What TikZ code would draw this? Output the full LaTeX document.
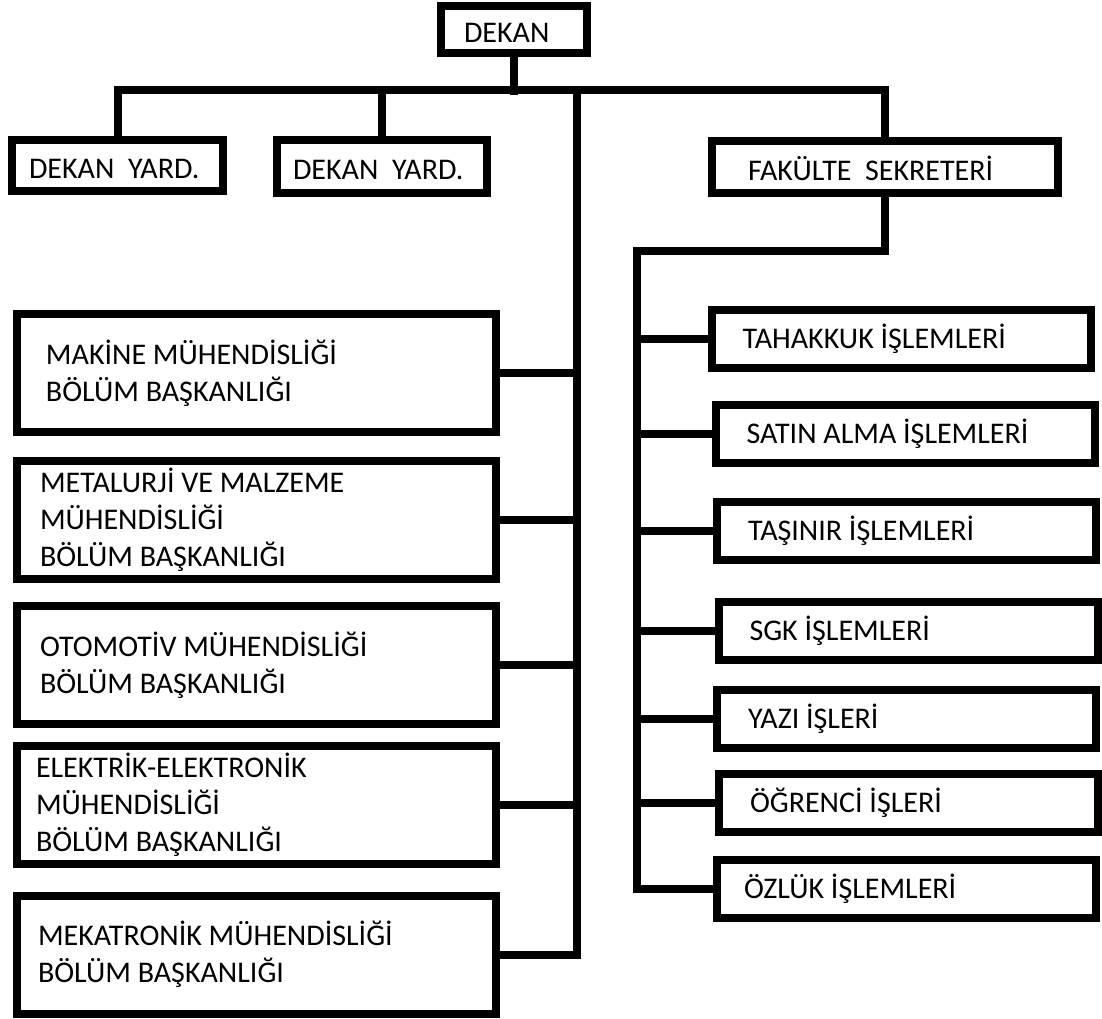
\documentclass[tikz,border=0pt]{standalone}
\usepackage{fontspec}
\setmainfont{Carlito}
\usepackage{tikz}
\newlength{\unitsize}
\setlength{\unitsize}{0.5pt}

\begin{document}
\begin{tikzpicture}[x=\unitsize,y=-\unitsize]
\useasboundingbox (0,0) rectangle (1102,1018);
\tikzstyle{every node}=[draw,
			rectangle,
			line width=8\unitsize,
			inner ysep=0pt,
			align=flush left,
			font=\fontsize{15}{18.5}\selectfont
			]
\tikzstyle{oneline}=[text height=9.7pt, text depth=0pt]
\tikzstyle{topbox}=[text height=13.2pt, text depth=0pt]
\tikzstyle{leftbox}=[minimum height=118\unitsize, inner xsep=23\unitsize, text width=433\unitsize]
\tikzstyle{rightbox}=[oneline, minimum height=58\unitsize, inner xsep=31\unitsize, text width=317\unitsize]
\tikzstyle{link}=[line width=8\unitsize]

\node[topbox, minimum height=47\unitsize, inner xsep=23\unitsize, text width=100\unitsize] (dekan) at (514,29.5) {DEKAN};

\node[topbox, minimum height=51\unitsize, inner xsep=17\unitsize, text width=177\unitsize] (dy1) at (117.5,165.5) {DEKAN\ \ YARD.};

\node[topbox, minimum height=53\unitsize, inner xsep=16\unitsize, text width=178\unitsize] (dy2) at (382,166.5) {DEKAN\ \ YARD.};

\node[topbox, minimum height=52\unitsize, inner xsep=36\unitsize, text width=274\unitsize] (fak) at (885,167) {FAKÜLTE\ \ SEKRETERİ};

\node[leftbox, inner xsep=29\unitsize, text width=421\unitsize] (mak) at (256.5,373) {MAKİNE MÜHENDİSLİĞİ\\BÖLÜM BAŞKANLIĞI};

\node[leftbox] (met) at (256.5,520) {METALURJİ VE MALZEME\\MÜHENDİSLİĞİ\\BÖLÜM BAŞKANLIĞI};

\node[leftbox] (oto) at (256.5,665) {OTOMOTİV MÜHENDİSLİĞİ\\BÖLÜM BAŞKANLIĞI};

\node[leftbox, inner xsep=19\unitsize, text width=441\unitsize] (ele) at (256.5,804.5) {ELEKTRİK-ELEKTRONİK\\MÜHENDİSLİĞİ\\BÖLÜM BAŞKANLIĞI};

\node[leftbox, inner xsep=21\unitsize, text width=437\unitsize] (mek) at (256.5,954.5) {MEKATRONİK MÜHENDİSLİĞİ\\BÖLÜM BAŞKANLIĞI};

\node[rightbox] (tah) at (901,338.5) {TAHAKKUK İŞLEMLERİ};

\node[rightbox] (sat) at (905,434) {SATIN ALMA İŞLEMLERİ};

\node[rightbox] (tas) at (906.5,530.5) {TAŞINIR İŞLEMLERİ};

\node[rightbox] (sgk) at (908,630.5) {SGK İŞLEMLERİ};

\node[rightbox] (yaz) at (906.5,718.5) {YAZI İŞLERİ};

\node[rightbox] (ogr) at (908.5,803) {ÖĞRENCİ İŞLERİ};

\node[rightbox, inner xsep=27\unitsize, text width=325\unitsize] (ozl) at (906.5,889) {ÖZLÜK İŞLEMLERİ};

\coordinate (split) at (514,89.5);
\coordinate (trunk) at (577,89.5);
\coordinate (fork) at (637,250.5);

\draw[link] (dekan.south) -- ([yshift=-5.5\unitsize]split);

\draw[link] (dy1.north) -- (dy1.north |- split) -- (fak.north |- split) -- (fak.north);

\draw[link] (dy2.north) -- (dy2.north |- split);

\draw[link] (trunk) -- (trunk |- mek.east) -- (mek.east);

\foreach \n in {mak,met,oto,ele}
  \draw[link] (\n.east) -- (\n.east -| trunk);

\draw[link] (fak.south) |- (fork) -- (fork |- ozl.west) -- (ozl.west);

\foreach \n in {tah,sat,tas,sgk,yaz,ogr}
  \draw[link] (\n.west) -- (\n.west -| fork);

\end{tikzpicture}
\end{document}
